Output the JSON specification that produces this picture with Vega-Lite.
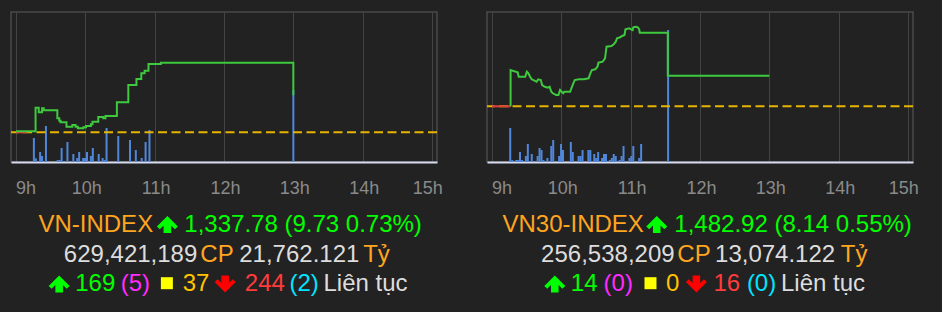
{
  "$schema": "https://vega.github.io/schema/vega-lite/v6.json",
  "background": "#222222",
  "padding": {"left": 9, "top": 11, "right": 22, "bottom": 16},
  "spacing": 50,
  "bounds": "flush",
  "config": {"view": {"stroke": "#4a4a4a", "strokeWidth": 1.5}},
  "datasets": {
    "hours": [
      {"h": 9, "lbl": "9h"}, {"h": 10, "lbl": "10h"}, {"h": 11, "lbl": "11h"}, {"h": 12, "lbl": "12h"},
      {"h": 13, "lbl": "13h"}, {"h": 14, "lbl": "14h"}, {"h": 15, "lbl": "15h"}
    ],
    "lineL": [
      {"t": 9.0, "p": 1328.3}, {"t": 9.282, "p": 1334.52}, {"t": 9.328, "p": 1333.31}, {"t": 9.376, "p": 1334.37},
      {"t": 9.4, "p": 1333.84}, {"t": 9.596, "p": 1331.73}, {"t": 9.624, "p": 1331.1}, {"t": 9.643, "p": 1330.68},
      {"t": 9.728, "p": 1329.52}, {"t": 9.813, "p": 1329.97}, {"t": 9.859, "p": 1329.52}, {"t": 9.892, "p": 1329.1},
      {"t": 9.972, "p": 1329.37}, {"t": 10.01, "p": 1329.71}, {"t": 10.08, "p": 1330.15}, {"t": 10.103, "p": 1330.84},
      {"t": 10.187, "p": 1332.08}, {"t": 10.258, "p": 1331.73}, {"t": 10.29, "p": 1332.34}, {"t": 10.455, "p": 1335.94},
      {"t": 10.62, "p": 1340.5}, {"t": 10.737, "p": 1342.08}, {"t": 10.807, "p": 1343.58}, {"t": 10.855, "p": 1344.26},
      {"t": 10.911, "p": 1346.02}, {"t": 11.089, "p": 1346.37}, {"t": 13.0, "p": 1337.78}
    ],
    "preL": [{"t": 9.0, "p": 1328.05}, {"t": 9.16, "p": 1328.05}],
    "refL": [{"ref": 1328.05}],
    "volL": [
      {"t": 9.258, "vol": 24}, {"t": 9.286, "vol": 3.7}, {"t": 9.348, "vol": 10}, {"t": 9.376, "vol": 6},
      {"t": 9.432, "vol": 36}, {"t": 9.601, "vol": 2}, {"t": 9.63, "vol": 2}, {"t": 9.658, "vol": 14},
      {"t": 9.742, "vol": 20}, {"t": 9.827, "vol": 8}, {"t": 9.883, "vol": 4}, {"t": 9.911, "vol": 10},
      {"t": 9.968, "vol": 4}, {"t": 9.996, "vol": 4}, {"t": 10.024, "vol": 10}, {"t": 10.08, "vol": 6},
      {"t": 10.108, "vol": 14}, {"t": 10.193, "vol": 8}, {"t": 10.249, "vol": 4}, {"t": 10.277, "vol": 2},
      {"t": 10.306, "vol": 34}, {"t": 10.475, "vol": 26}, {"t": 10.644, "vol": 22}, {"t": 10.728, "vol": 12},
      {"t": 10.813, "vol": 4}, {"t": 10.869, "vol": 20}, {"t": 10.925, "vol": 32}, {"t": 13.0, "vol": 72}
    ],
    "lineR": [
      {"t": 9.268, "p": 1474.78}, {"t": 9.268, "p": 1484.43}, {"t": 9.37, "p": 1483.82}, {"t": 9.385, "p": 1482.65},
      {"t": 9.479, "p": 1482.65}, {"t": 9.503, "p": 1483.98}, {"t": 9.525, "p": 1483.56}, {"t": 9.549, "p": 1482.65},
      {"t": 9.573, "p": 1481.96}, {"t": 9.644, "p": 1481.32}, {"t": 9.666, "p": 1481.96}, {"t": 9.704, "p": 1481.77},
      {"t": 9.723, "p": 1480.44}, {"t": 9.761, "p": 1479.99}, {"t": 9.807, "p": 1479.73}, {"t": 9.831, "p": 1479.99},
      {"t": 9.855, "p": 1478.66}, {"t": 9.877, "p": 1478.24}, {"t": 9.925, "p": 1477.79}, {"t": 9.958, "p": 1477.79},
      {"t": 9.982, "p": 1479.12}, {"t": 10.004, "p": 1478.66}, {"t": 10.028, "p": 1478.24}, {"t": 10.042, "p": 1478.66},
      {"t": 10.127, "p": 1478.66}, {"t": 10.145, "p": 1479.57}, {"t": 10.173, "p": 1480.9}, {"t": 10.193, "p": 1481.77},
      {"t": 10.254, "p": 1481.96}, {"t": 10.324, "p": 1481.96}, {"t": 10.394, "p": 1482.23}, {"t": 10.418, "p": 1483.56},
      {"t": 10.441, "p": 1484.43}, {"t": 10.489, "p": 1484.62}, {"t": 10.521, "p": 1485.31}, {"t": 10.535, "p": 1486.38},
      {"t": 10.596, "p": 1486.64}, {"t": 10.63, "p": 1487.55}, {"t": 10.652, "p": 1490.63}, {"t": 10.723, "p": 1490.82},
      {"t": 10.756, "p": 1491.27}, {"t": 10.785, "p": 1491.96}, {"t": 10.803, "p": 1492.87}, {"t": 10.849, "p": 1493.13},
      {"t": 10.877, "p": 1493.48}, {"t": 10.911, "p": 1493.74}, {"t": 10.925, "p": 1495.26}, {"t": 10.982, "p": 1495.52},
      {"t": 11.004, "p": 1495.26}, {"t": 11.028, "p": 1495.07}, {"t": 11.038, "p": 1495.79}, {"t": 11.075, "p": 1495.95},
      {"t": 11.103, "p": 1495.79}, {"t": 11.123, "p": 1495.26}, {"t": 11.131, "p": 1494.35}, {"t": 11.535, "p": 1494.35},
      {"t": 11.535, "p": 1482.92}, {"t": 13.0, "p": 1482.92}
    ],
    "preR": [{"t": 9.0, "p": 1474.78}, {"t": 9.268, "p": 1474.78}],
    "refR": [{"ref": 1474.78}],
    "volR": [
      {"t": 9.263, "vol": 34}, {"t": 9.292, "vol": 2}, {"t": 9.348, "vol": 2}, {"t": 9.376, "vol": 2},
      {"t": 9.404, "vol": 10}, {"t": 9.432, "vol": 2}, {"t": 9.489, "vol": 6}, {"t": 9.517, "vol": 18},
      {"t": 9.573, "vol": 8}, {"t": 9.658, "vol": 6}, {"t": 9.686, "vol": 14}, {"t": 9.714, "vol": 12},
      {"t": 9.742, "vol": 2}, {"t": 9.799, "vol": 4}, {"t": 9.855, "vol": 16}, {"t": 9.883, "vol": 22},
      {"t": 9.968, "vol": 6}, {"t": 9.996, "vol": 18}, {"t": 10.024, "vol": 12}, {"t": 10.137, "vol": 20},
      {"t": 10.165, "vol": 10}, {"t": 10.249, "vol": 6}, {"t": 10.277, "vol": 6}, {"t": 10.306, "vol": 12},
      {"t": 10.39, "vol": 12}, {"t": 10.418, "vol": 12}, {"t": 10.475, "vol": 8}, {"t": 10.503, "vol": 4},
      {"t": 10.531, "vol": 10}, {"t": 10.587, "vol": 4}, {"t": 10.615, "vol": 8}, {"t": 10.644, "vol": 8},
      {"t": 10.7, "vol": 2}, {"t": 10.728, "vol": 4}, {"t": 10.756, "vol": 8}, {"t": 10.785, "vol": 6},
      {"t": 10.841, "vol": 2}, {"t": 10.869, "vol": 6}, {"t": 10.897, "vol": 16}, {"t": 10.982, "vol": 4},
      {"t": 11.01, "vol": 6}, {"t": 11.038, "vol": 16}, {"t": 11.123, "vol": 4}, {"t": 11.151, "vol": 18},
      {"t": 11.54, "vol": 132}
    ]
  },
  "hconcat": [
    {
      "width": 426, "height": 150,
      "resolve": {"scale": {"y": "independent"}},
      "layer": [
        {
          "data": {"name": "volL"},
          "mark": {"type": "bar", "size": 2, "color": "#4f87db"},
          "encoding": {
            "x": {"field": "t", "type": "quantitative", "scale": {"domain": [9, 15], "nice": false, "zero": false},
              "axis": {"title": null, "values": [9, 10, 11, 12, 13, 14, 15], "labels": false, "ticks": false, "tickSize": 0,
                "grid": true, "gridColor": "#444444", "gridWidth": 1, "domainColor": "#d6dbf0", "domainWidth": 2}},
            "y": {"field": "vol", "type": "quantitative", "scale": {"domain": [0, 150]}, "axis": null}
          }
        },
        {
          "data": {"name": "refL"},
          "mark": {"type": "rule", "color": "#e8b400", "strokeWidth": 2, "strokeDash": [9, 4.5]},
          "encoding": {"y": {"field": "ref", "type": "quantitative", "scale": {"domain": [1320.23, 1359.71]}, "axis": null}}
        },
        {
          "data": {"name": "preL"},
          "mark": {"type": "line", "color": "#e0413a", "strokeWidth": 2},
          "encoding": {
            "x": {"field": "t", "type": "quantitative"},
            "y": {"field": "p", "type": "quantitative", "scale": {"domain": [1320.23, 1359.71]}, "axis": null}
          }
        },
        {
          "data": {"name": "lineL"},
          "mark": {"type": "line", "color": "#3ec93e", "strokeWidth": 2, "interpolate": "step-after"},
          "encoding": {
            "x": {"field": "t", "type": "quantitative"},
            "y": {"field": "p", "type": "quantitative", "scale": {"domain": [1320.23, 1359.71]}, "axis": null}
          }
        },
        {"data": {"name": "hours"}, "transform": [{"filter": "datum.h == 9"}],
          "mark": {"type": "text", "align": "left", "baseline": "alphabetic", "font": "Liberation Sans", "fontSize": 18, "color": "#8a8a8a"},
          "encoding": {"x": {"field": "h", "type": "quantitative"}, "y": {"value": 182.3}, "text": {"field": "lbl"}}},
        {"data": {"name": "hours"}, "transform": [{"filter": "datum.h > 9 && datum.h < 15"}],
          "mark": {"type": "text", "align": "center", "baseline": "alphabetic", "font": "Liberation Sans", "fontSize": 18, "color": "#8a8a8a", "dx": 1.5},
          "encoding": {"x": {"field": "h", "type": "quantitative"}, "y": {"value": 182.3}, "text": {"field": "lbl"}}},
        {"data": {"name": "hours"}, "transform": [{"filter": "datum.h == 15"}],
          "mark": {"type": "text", "align": "center", "baseline": "alphabetic", "font": "Liberation Sans", "fontSize": 18, "color": "#8a8a8a", "dx": -4.3},
          "encoding": {"x": {"field": "h", "type": "quantitative"}, "y": {"value": 182.3}, "text": {"field": "lbl"}}},
        {"data": {"values": [{"label": "VN-INDEX"}]},
          "mark": {"type": "text", "align": "left", "baseline": "alphabetic", "font": "Liberation Sans", "fontSize": 24, "color": "#ffa51f"},
          "encoding": {"x": {"datum": 9.3239, "type": "quantitative"}, "y": {"value": 219.7}, "text": {"field": "label"}}},
        {"data": {"values": [{"sign": "up"}]},
          "mark": {"type": "point", "filled": true, "size": 441, "color": "#00ff00", "opacity": 1,
            "shape": "M0,-0.8L1,0.2L0.72,0.46L0.36,0.1L0.36,0.8L-0.36,0.8L-0.36,0.1L-0.72,0.46L-1,0.2Z"},
          "encoding": {"x": {"datum": 11.1831, "type": "quantitative"}, "y": {"value": 212.5}}},
        {"data": {"values": [{"label": "1,337.78 (9.73 0.73%)"}]},
          "mark": {"type": "text", "align": "left", "baseline": "alphabetic", "font": "Liberation Sans", "fontSize": 24, "color": "#00ff00"},
          "encoding": {"x": {"datum": 11.4282, "type": "quantitative"}, "y": {"value": 219.7}, "text": {"field": "label"}}},
        {"data": {"values": [{"label": "629,421,189"}]},
          "mark": {"type": "text", "align": "left", "baseline": "alphabetic", "font": "Liberation Sans", "fontSize": 24, "color": "#dddddd"},
          "encoding": {"x": {"datum": 9.6901, "type": "quantitative"}, "y": {"value": 249.7}, "text": {"field": "label"}}},
        {"data": {"values": [{"label": "CP"}]},
          "mark": {"type": "text", "align": "left", "baseline": "alphabetic", "font": "Liberation Sans", "fontSize": 24, "color": "#ffa51f"},
          "encoding": {"x": {"datum": 11.6592, "type": "quantitative"}, "y": {"value": 249.7}, "text": {"field": "label"}}},
        {"data": {"values": [{"label": "21,762.121"}]},
          "mark": {"type": "text", "align": "left", "baseline": "alphabetic", "font": "Liberation Sans", "fontSize": 24, "color": "#dddddd"},
          "encoding": {"x": {"datum": 12.2197, "type": "quantitative"}, "y": {"value": 249.7}, "text": {"field": "label"}}},
        {"data": {"values": [{"label": "Tỷ"}]},
          "mark": {"type": "text", "align": "left", "baseline": "alphabetic", "font": "Liberation Sans", "fontSize": 24, "color": "#ffa51f"},
          "encoding": {"x": {"datum": 14.007, "type": "quantitative"}, "y": {"value": 249.7}, "text": {"field": "label"}}},
        {"data": {"values": [{"sign": "up"}]},
          "mark": {"type": "point", "filled": true, "size": 441, "color": "#00ff00", "opacity": 1,
            "shape": "M0,-0.8L1,0.2L0.72,0.46L0.36,0.1L0.36,0.8L-0.36,0.8L-0.36,0.1L-0.72,0.46L-1,0.2Z"},
          "encoding": {"x": {"datum": 9.6225, "type": "quantitative"}, "y": {"value": 272}}},
        {"data": {"values": [{"label": "169"}]},
          "mark": {"type": "text", "align": "left", "baseline": "alphabetic", "font": "Liberation Sans", "fontSize": 24, "color": "#00ff00"},
          "encoding": {"x": {"datum": 9.8549, "type": "quantitative"}, "y": {"value": 278.7}, "text": {"field": "label"}}},
        {"data": {"values": [{"label": "(5)"}]},
          "mark": {"type": "text", "align": "left", "baseline": "alphabetic", "font": "Liberation Sans", "fontSize": 24, "color": "#ff2bff"},
          "encoding": {"x": {"datum": 10.5113, "type": "quantitative"}, "y": {"value": 278.7}, "text": {"field": "label"}}},
        {"data": {"values": [{"sign": "same"}]},
          "mark": {"type": "point", "filled": true, "size": 144, "shape": "square", "color": "#ffff00", "opacity": 1},
          "encoding": {"x": {"datum": 11.1761, "type": "quantitative"}, "y": {"value": 271.2}}},
        {"data": {"values": [{"label": "37"}]},
          "mark": {"type": "text", "align": "left", "baseline": "alphabetic", "font": "Liberation Sans", "fontSize": 24, "color": "#ffc400"},
          "encoding": {"x": {"datum": 11.4042, "type": "quantitative"}, "y": {"value": 278.7}, "text": {"field": "label"}}},
        {"data": {"values": [{"sign": "down"}]},
          "mark": {"type": "point", "filled": true, "size": 441, "color": "#ff0000", "opacity": 1,
            "shape": "M0,0.8L1,-0.2L0.72,-0.46L0.36,-0.1L0.36,-0.8L-0.36,-0.8L-0.36,-0.1L-0.72,-0.46L-1,-0.2Z"},
          "encoding": {"x": {"datum": 12.0169, "type": "quantitative"}, "y": {"value": 272}}},
        {"data": {"values": [{"label": "244"}]},
          "mark": {"type": "text", "align": "left", "baseline": "alphabetic", "font": "Liberation Sans", "fontSize": 24, "color": "#ff3b3b"},
          "encoding": {"x": {"datum": 12.3, "type": "quantitative"}, "y": {"value": 278.7}, "text": {"field": "label"}}},
        {"data": {"values": [{"label": "(2)"}]},
          "mark": {"type": "text", "align": "left", "baseline": "alphabetic", "font": "Liberation Sans", "fontSize": 24, "color": "#00e5ff"},
          "encoding": {"x": {"datum": 12.9437, "type": "quantitative"}, "y": {"value": 278.7}, "text": {"field": "label"}}},
        {"data": {"values": [{"label": "Liên tục"}]},
          "mark": {"type": "text", "align": "left", "baseline": "alphabetic", "font": "Liberation Sans", "fontSize": 24, "color": "#dddddd"},
          "encoding": {"x": {"datum": 13.4352, "type": "quantitative"}, "y": {"value": 278.7}, "text": {"field": "label"}}}
      ]
    },
    {
      "width": 426, "height": 150,
      "resolve": {"scale": {"y": "independent"}},
      "layer": [
        {
          "data": {"name": "volR"},
          "mark": {"type": "bar", "size": 2, "color": "#4f87db"},
          "encoding": {
            "x": {"field": "t", "type": "quantitative", "scale": {"domain": [9, 15], "nice": false, "zero": false},
              "axis": {"title": null, "values": [9, 10, 11, 12, 13, 14, 15], "labels": false, "ticks": false, "tickSize": 0,
                "grid": true, "gridColor": "#444444", "gridWidth": 1, "domainColor": "#d6dbf0", "domainWidth": 2}},
            "y": {"field": "vol", "type": "quantitative", "scale": {"domain": [0, 150]}, "axis": null}
          }
        },
        {
          "data": {"name": "refR"},
          "mark": {"type": "rule", "color": "#e8b400", "strokeWidth": 2, "strokeDash": [9, 4.5]},
          "encoding": {"y": {"field": "ref", "type": "quantitative", "scale": {"domain": [1459.97, 1499.86]}, "axis": null}}
        },
        {
          "data": {"name": "preR"},
          "mark": {"type": "line", "color": "#e0413a", "strokeWidth": 2},
          "encoding": {
            "x": {"field": "t", "type": "quantitative"},
            "y": {"field": "p", "type": "quantitative", "scale": {"domain": [1459.97, 1499.86]}, "axis": null}
          }
        },
        {
          "data": {"name": "lineR"},
          "mark": {"type": "line", "color": "#3ec93e", "strokeWidth": 2},
          "encoding": {
            "x": {"field": "t", "type": "quantitative"},
            "y": {"field": "p", "type": "quantitative", "scale": {"domain": [1459.97, 1499.86]}, "axis": null},
            "order": {"value": null}
          }
        },
        {"data": {"name": "hours"}, "transform": [{"filter": "datum.h == 9"}],
          "mark": {"type": "text", "align": "left", "baseline": "alphabetic", "font": "Liberation Sans", "fontSize": 18, "color": "#8a8a8a"},
          "encoding": {"x": {"field": "h", "type": "quantitative"}, "y": {"value": 182.3}, "text": {"field": "lbl"}}},
        {"data": {"name": "hours"}, "transform": [{"filter": "datum.h > 9 && datum.h < 15"}],
          "mark": {"type": "text", "align": "center", "baseline": "alphabetic", "font": "Liberation Sans", "fontSize": 18, "color": "#8a8a8a", "dx": 1.5},
          "encoding": {"x": {"field": "h", "type": "quantitative"}, "y": {"value": 182.3}, "text": {"field": "lbl"}}},
        {"data": {"name": "hours"}, "transform": [{"filter": "datum.h == 15"}],
          "mark": {"type": "text", "align": "center", "baseline": "alphabetic", "font": "Liberation Sans", "fontSize": 18, "color": "#8a8a8a", "dx": -4.3},
          "encoding": {"x": {"field": "h", "type": "quantitative"}, "y": {"value": 182.3}, "text": {"field": "lbl"}}},
        {"data": {"values": [{"label": "VN30-INDEX"}]},
          "mark": {"type": "text", "align": "left", "baseline": "alphabetic", "font": "Liberation Sans", "fontSize": 24, "color": "#ffa51f"},
          "encoding": {"x": {"datum": 9.1507, "type": "quantitative"}, "y": {"value": 219.7}, "text": {"field": "label"}}},
        {"data": {"values": [{"sign": "up"}]},
          "mark": {"type": "point", "filled": true, "size": 441, "color": "#00ff00", "opacity": 1,
            "shape": "M0,-0.8L1,0.2L0.72,0.46L0.36,0.1L0.36,0.8L-0.36,0.8L-0.36,0.1L-0.72,0.46L-1,0.2Z"},
          "encoding": {"x": {"datum": 11.3761, "type": "quantitative"}, "y": {"value": 212.5}}},
        {"data": {"values": [{"label": "1,482.92 (8.14 0.55%)"}]},
          "mark": {"type": "text", "align": "left", "baseline": "alphabetic", "font": "Liberation Sans", "fontSize": 24, "color": "#00ff00"},
          "encoding": {"x": {"datum": 11.6296, "type": "quantitative"}, "y": {"value": 219.7}, "text": {"field": "label"}}},
        {"data": {"values": [{"label": "256,538,209"}]},
          "mark": {"type": "text", "align": "left", "baseline": "alphabetic", "font": "Liberation Sans", "fontSize": 24, "color": "#dddddd"},
          "encoding": {"x": {"datum": 9.7085, "type": "quantitative"}, "y": {"value": 249.7}, "text": {"field": "label"}}},
        {"data": {"values": [{"label": "CP"}]},
          "mark": {"type": "text", "align": "left", "baseline": "alphabetic", "font": "Liberation Sans", "fontSize": 24, "color": "#ffa51f"},
          "encoding": {"x": {"datum": 11.6732, "type": "quantitative"}, "y": {"value": 249.7}, "text": {"field": "label"}}},
        {"data": {"values": [{"label": "13,074.122"}]},
          "mark": {"type": "text", "align": "left", "baseline": "alphabetic", "font": "Liberation Sans", "fontSize": 24, "color": "#dddddd"},
          "encoding": {"x": {"datum": 12.2169, "type": "quantitative"}, "y": {"value": 249.7}, "text": {"field": "label"}}},
        {"data": {"values": [{"label": "Tỷ"}]},
          "mark": {"type": "text", "align": "left", "baseline": "alphabetic", "font": "Liberation Sans", "fontSize": 24, "color": "#ffa51f"},
          "encoding": {"x": {"datum": 14.031, "type": "quantitative"}, "y": {"value": 249.7}, "text": {"field": "label"}}},
        {"data": {"values": [{"sign": "up"}]},
          "mark": {"type": "point", "filled": true, "size": 441, "color": "#00ff00", "opacity": 1,
            "shape": "M0,-0.8L1,0.2L0.72,0.46L0.36,0.1L0.36,0.8L-0.36,0.8L-0.36,0.1L-0.72,0.46L-1,0.2Z"},
          "encoding": {"x": {"datum": 9.9056, "type": "quantitative"}, "y": {"value": 272}}},
        {"data": {"values": [{"label": "14"}]},
          "mark": {"type": "text", "align": "left", "baseline": "alphabetic", "font": "Liberation Sans", "fontSize": 24, "color": "#00ff00"},
          "encoding": {"x": {"datum": 10.1366, "type": "quantitative"}, "y": {"value": 278.7}, "text": {"field": "label"}}},
        {"data": {"values": [{"label": "(0)"}]},
          "mark": {"type": "text", "align": "left", "baseline": "alphabetic", "font": "Liberation Sans", "fontSize": 24, "color": "#ff2bff"},
          "encoding": {"x": {"datum": 10.6099, "type": "quantitative"}, "y": {"value": 278.7}, "text": {"field": "label"}}},
        {"data": {"values": [{"sign": "same"}]},
          "mark": {"type": "point", "filled": true, "size": 144, "shape": "square", "color": "#ffff00", "opacity": 1},
          "encoding": {"x": {"datum": 11.2859, "type": "quantitative"}, "y": {"value": 271.2}}},
        {"data": {"values": [{"label": "0"}]},
          "mark": {"type": "text", "align": "left", "baseline": "alphabetic", "font": "Liberation Sans", "fontSize": 24, "color": "#ffc400"},
          "encoding": {"x": {"datum": 11.5113, "type": "quantitative"}, "y": {"value": 278.7}, "text": {"field": "label"}}},
        {"data": {"values": [{"sign": "down"}]},
          "mark": {"type": "point", "filled": true, "size": 441, "color": "#ff0000", "opacity": 1,
            "shape": "M0,0.8L1,-0.2L0.72,-0.46L0.36,-0.1L0.36,-0.8L-0.36,-0.8L-0.36,-0.1L-0.72,-0.46L-1,-0.2Z"},
          "encoding": {"x": {"datum": 11.9479, "type": "quantitative"}, "y": {"value": 272}}},
        {"data": {"values": [{"label": "16"}]},
          "mark": {"type": "text", "align": "left", "baseline": "alphabetic", "font": "Liberation Sans", "fontSize": 24, "color": "#ff3b3b"},
          "encoding": {"x": {"datum": 12.193, "type": "quantitative"}, "y": {"value": 278.7}, "text": {"field": "label"}}},
        {"data": {"values": [{"label": "(0)"}]},
          "mark": {"type": "text", "align": "left", "baseline": "alphabetic", "font": "Liberation Sans", "fontSize": 24, "color": "#00e5ff"},
          "encoding": {"x": {"datum": 12.6761, "type": "quantitative"}, "y": {"value": 278.7}, "text": {"field": "label"}}},
        {"data": {"values": [{"label": "Liên tục"}]},
          "mark": {"type": "text", "align": "left", "baseline": "alphabetic", "font": "Liberation Sans", "fontSize": 24, "color": "#dddddd"},
          "encoding": {"x": {"datum": 13.1676, "type": "quantitative"}, "y": {"value": 278.7}, "text": {"field": "label"}}}
      ]
    }
  ]
}
